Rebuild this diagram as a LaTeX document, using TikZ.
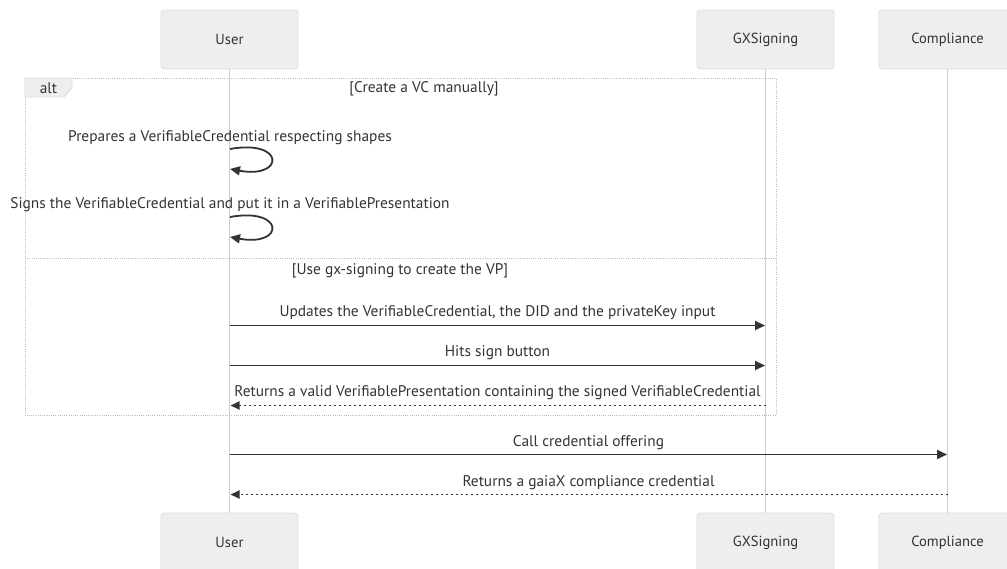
\documentclass[tikz,border=0pt]{standalone}
\usepackage{fontspec}
\setmainfont{PT Sans}
\usetikzlibrary{arrows.meta}
\definecolor{txt}{HTML}{333333}
\definecolor{actfill}{HTML}{EEEEEE}
\definecolor{actline}{HTML}{DDDDDD}
\definecolor{lifec}{HTML}{CCCCCC}
\definecolor{framec}{HTML}{BBBBBB}
\definecolor{msgc}{HTML}{333333}
\tikzset{
  actor/.style={rectangle, minimum width=137pt, minimum height=59pt, rounded corners=3pt,
    fill=actfill, draw=actline, line width=0.8pt, text=txt, font=\fontsize{14.6}{17}\selectfont, inner sep=0pt},
  lifeline/.style={draw=lifec, line width=1.5pt},
  framebox/.style={draw=framec, line width=1pt, dash pattern=on 1pt off 1.2pt},
  msg/.style={draw=msgc, line width=1.8pt, -{Triangle[length=10pt,width=9pt]}},
  reply/.style={draw=msgc, line width=1.8pt, dash pattern=on 2.5pt off 2.5pt, -{Triangle[length=9pt,width=8pt]}},
  lbl/.style={text=txt, font=\fontsize{15.4}{18}\selectfont, inner sep=0pt},
}
\begin{document}
\begin{tikzpicture}[x=1pt,y=-1pt]
\useasboundingbox (0,0) rectangle (1007,568);
\begin{scope}
\clip (0,0) rectangle (1007,568);
% participants, top and bottom
\node[actor] (userT) at (229.5,39.5) {User};
\node[actor] (gxT)   at (765.5,39.5) {GXSigning};
\node[actor] (compT) at (947.5,39.5) {Compliance};
\node[actor] (userB) at (229.5,542.5) {User};
\node[actor] (gxB)   at (765.5,542.5) {GXSigning};
\node[actor] (compB) at (947.5,542.5) {Compliance};
\end{scope}
% lifelines
\draw[lifeline] (userT.south) -- (userB.north);
\draw[lifeline] (gxT.south) -- (gxB.north);
\draw[lifeline] (compT.south) -- (compB.north);

% alt frame
\draw[framebox] (25,78) rectangle (776,415);
\draw[framebox] (25,258) -- (776,258);
\filldraw[fill=actfill, draw=actline, line width=0.8pt] (25,78) -- (72,78) -- (72,88) -- (64,97) -- (25,97) -- cycle;
\node[lbl] (altlbl) at (48.5,88.5) {alt};
\node[lbl] (cond1) at (424,89) {[Create a VC manually]};
\node[lbl] (cond2) at (400,271) {[Use gx-signing to create the VP]};

% self messages on User
\coordinate (s1a) at (230,149);
\coordinate (s1b) at (230,169);
\node[lbl] (m1) at (230,138) {Prepares a VerifiableCredential respecting shapes};
\draw[msg] (s1a) .. controls (285,139) and (285,179) .. (s1b);
\coordinate (s2a) at (230,217);
\coordinate (s2b) at (230,237);
\node[lbl] (m2) at (230,205) {Signs the VerifiableCredential and put it in a VerifiablePresentation};
\draw[msg] (s2a) .. controls (285,207) and (285,247) .. (s2b);

% messages between User and GXSigning
\coordinate (u3) at (230,325.5);  \coordinate (g3) at (765,325.5);
\node[lbl] (m3) at (497.5,313) {Updates the VerifiableCredential, the DID and the privateKey input};
\draw[msg] (u3) -- (g3);
\coordinate (u4) at (230,365.5);  \coordinate (g4) at (765,365.5);
\node[lbl] (m4) at (497.5,353) {Hits sign button};
\draw[msg] (u4) -- (g4);
\coordinate (u5) at (230.5,405.5);  \coordinate (g5) at (766,405.5);
\node[lbl] (m5) at (497.5,393) {Returns a valid VerifiablePresentation containing the signed VerifiableCredential};
\draw[reply] (g5) -- (u5);

% messages between User and Compliance
\coordinate (u6) at (230,454.5);  \coordinate (c6) at (947,454.5);
\node[lbl] (m6) at (588.5,443) {Call credential offering};
\draw[msg] (u6) -- (c6);
\coordinate (u7) at (230.5,494.5);  \coordinate (c7) at (948,494.5);
\node[lbl] (m7) at (588.5,483) {Returns a gaiaX compliance credential};
\draw[reply] (c7) -- (u7);
\end{tikzpicture}
\end{document}
